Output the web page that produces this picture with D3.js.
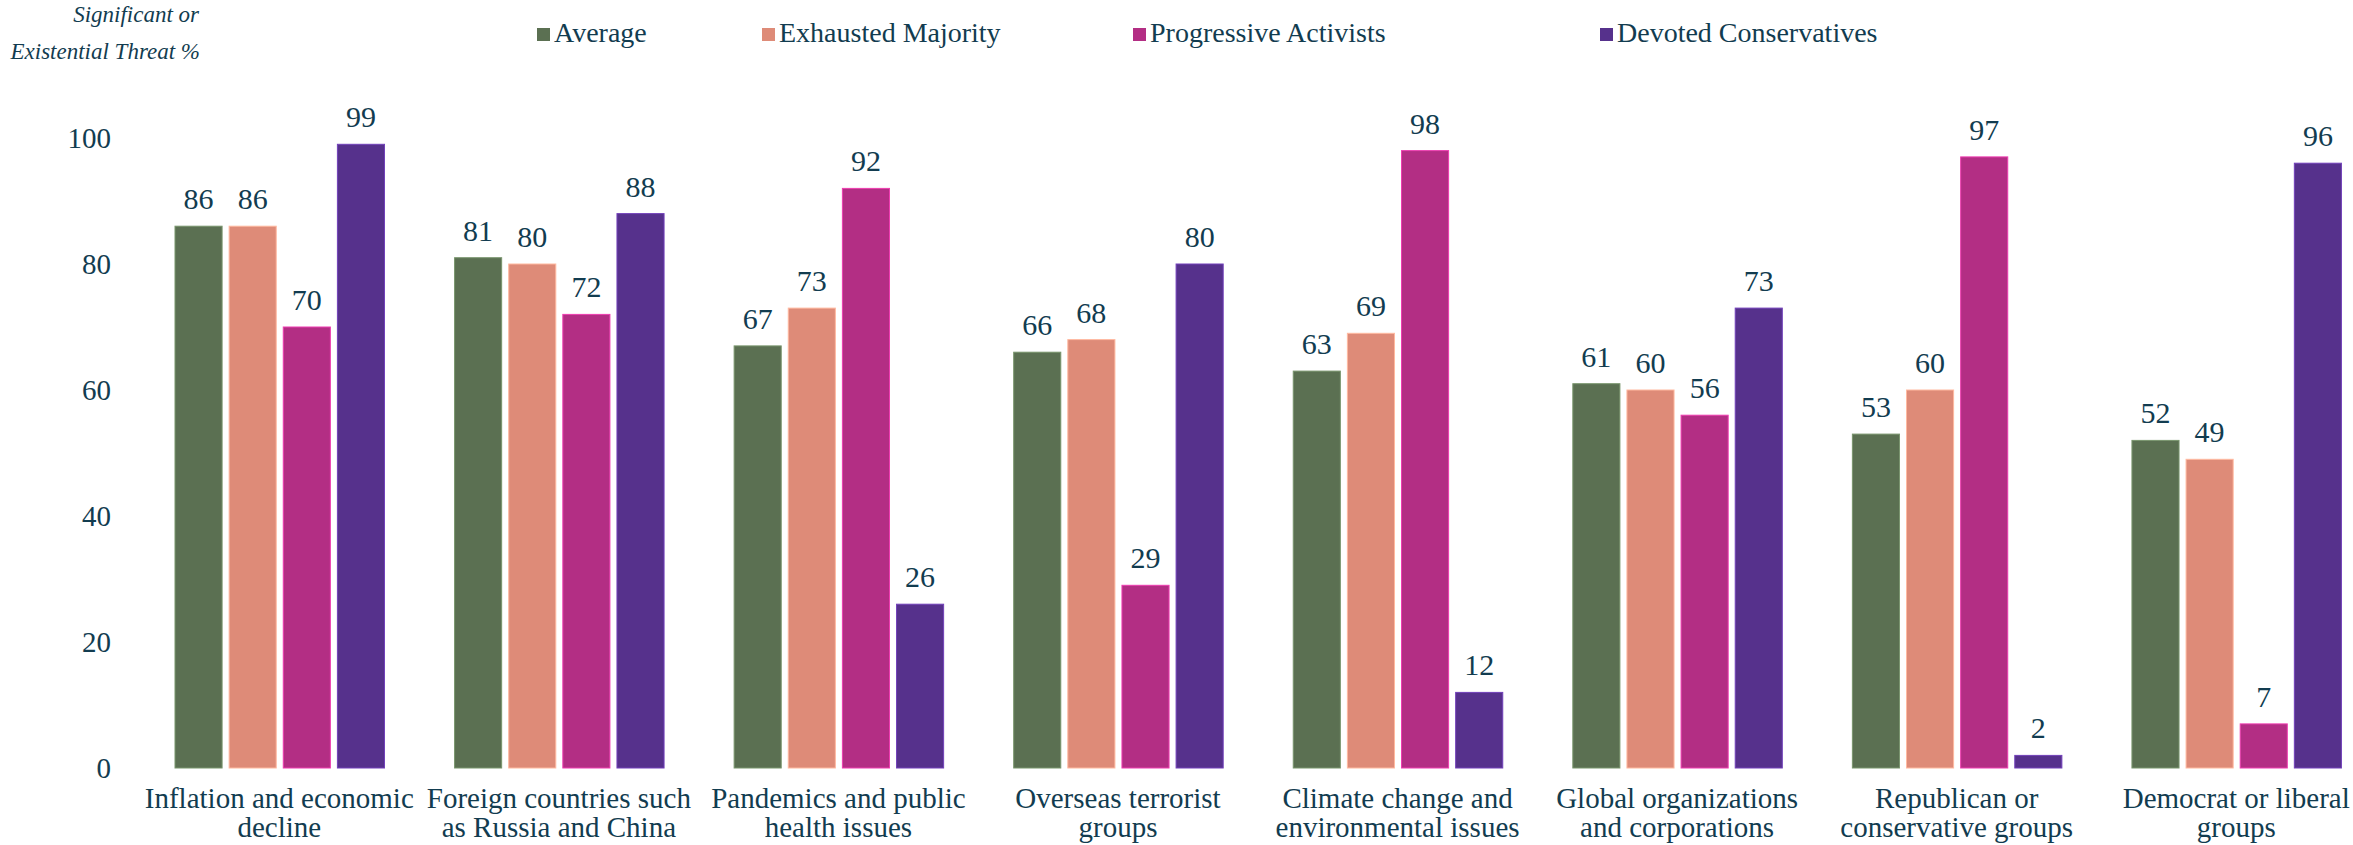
<!DOCTYPE html>
<html>
<head>
<meta charset="utf-8">
<script src="https://cdn.jsdelivr.net/npm/d3@7"></script>
<style>
  body { margin: 0; background: #fff; }
  text { font-family: "Liberation Serif", "DejaVu Serif", serif; fill: #123c50; }
</style>
</head>
<body>
<svg width="2353" height="845"></svg>
<script>
// categories, two lines each (split on "|")
var categories = [
    "Inflation and economic|decline",
    "Foreign countries such|as Russia and China",
    "Pandemics and public|health issues",
    "Overseas terrorist|groups",
    "Climate change and|environmental issues",
    "Global organizations|and corporations",
    "Republican or|conservative groups",
    "Democrat or liberal|groups"
];
var seriesNames = ["Average", "Exhausted Majority", "Progressive Activists", "Devoted Conservatives"];
var average     = [86, 81, 67, 66, 63, 61, 53, 52];
var exhausted   = [86, 80, 73, 68, 69, 60, 60, 49];
var progressive = [70, 72, 92, 29, 98, 56, 97, 7];
var devoted     = [99, 88, 26, 80, 12, 73, 2, 96];
var yTicks = [0, 20, 40, 60, 80, 100];

var COLORS = ["#5b7052", "#de8b78", "#b32e84", "#56318c"];
var series = [average, exhausted, progressive, devoted];

var svg = d3.select("svg");

var x0 = d3.scaleBand().domain(categories).range([139.5, 2376]).padding(0);
var x1 = d3.scaleBand().domain(seriesNames).range([35.5, 245]).paddingInner(0.13).paddingOuter(0);
var y = d3.scaleLinear().domain([0, 100]).range([768, 138]);

var rows = [];
categories.forEach(function(c, i) {
    seriesNames.forEach(function(s, j) {
        rows.push({cat: c, name: s, value: series[j][i], color: COLORS[j]});
    });
});

// y axis
var yAxis = svg.append("g")
    .attr("transform", "translate(111,0)")
    .call(d3.axisLeft(y).tickValues(yTicks).tickSize(0).tickPadding(0));
yAxis.select(".domain").remove();
yAxis.selectAll("text")
    .attr("font-size", 29)
    .attr("font-family", "Liberation Serif")
    .attr("fill", "#123c50")
    .attr("dy", "0.33em");

// axis title
svg.append("text")
    .attr("x", 199).attr("y", 22)
    .attr("text-anchor", "end")
    .attr("font-style", "italic")
    .attr("font-size", 23)
    .text("Significant or");
svg.append("text")
    .attr("x", 200).attr("y", 59)
    .attr("text-anchor", "end")
    .attr("font-style", "italic")
    .attr("font-size", 23)
    .text("Existential Threat %");

// bars
var g = svg.append("g");
g.selectAll("rect")
    .data(rows)
    .enter().append("rect")
    .attr("x", d => x0(d.cat) + x1(d.name))
    .attr("width", x1.bandwidth())
    .attr("y", d => y(d.value))
    .attr("height", d => y(0) - y(d.value))
    .attr("fill", d => d.color)
    .attr("stroke", d => d3.color(d.color).brighter(0.8))
    .attr("stroke-width", 1);

g.selectAll(".val")
    .data(rows)
    .enter().append("text")
    .attr("class", "val")
    .attr("x", d => x0(d.cat) + x1(d.name) + x1.bandwidth() / 2)
    .attr("y", d => y(d.value) - 17)
    .attr("text-anchor", "middle")
    .attr("font-size", 30)
    .text(d => d.value);

// x axis
var xAxis = svg.append("g")
    .attr("transform", "translate(0," + y(0) + ")")
    .call(d3.axisBottom(x0).tickSize(0).tickFormat(""));
xAxis.select(".domain").remove();
xAxis.selectAll(".tick text").remove();
xAxis.selectAll(".tick").append("text")
    .attr("text-anchor", "middle")
    .attr("font-size", 29)
    .attr("fill", "#123c50")
    .attr("font-family", "Liberation Serif")
    .each(function(d) {
        var t = d3.select(this);
        d.split("|").forEach(function(line, i) {
            t.append("tspan").attr("x", 0).attr("y", 40 + i * 29).text(line);
        });
    });

// legend
var LEGEND_X = [537, 762, 1133, 1600];
var legend = svg.append("g").selectAll("g")
    .data(seriesNames)
    .enter().append("g")
    .attr("transform", (d, i) => "translate(" + LEGEND_X[i] + ",28)");
legend.append("rect")
    .attr("width", 13).attr("height", 13)
    .attr("fill", (d, i) => COLORS[i]);
legend.append("text")
    .attr("x", 17).attr("y", 14)
    .attr("font-size", 28)
    .text(d => d);
</script>
</body>
</html>
